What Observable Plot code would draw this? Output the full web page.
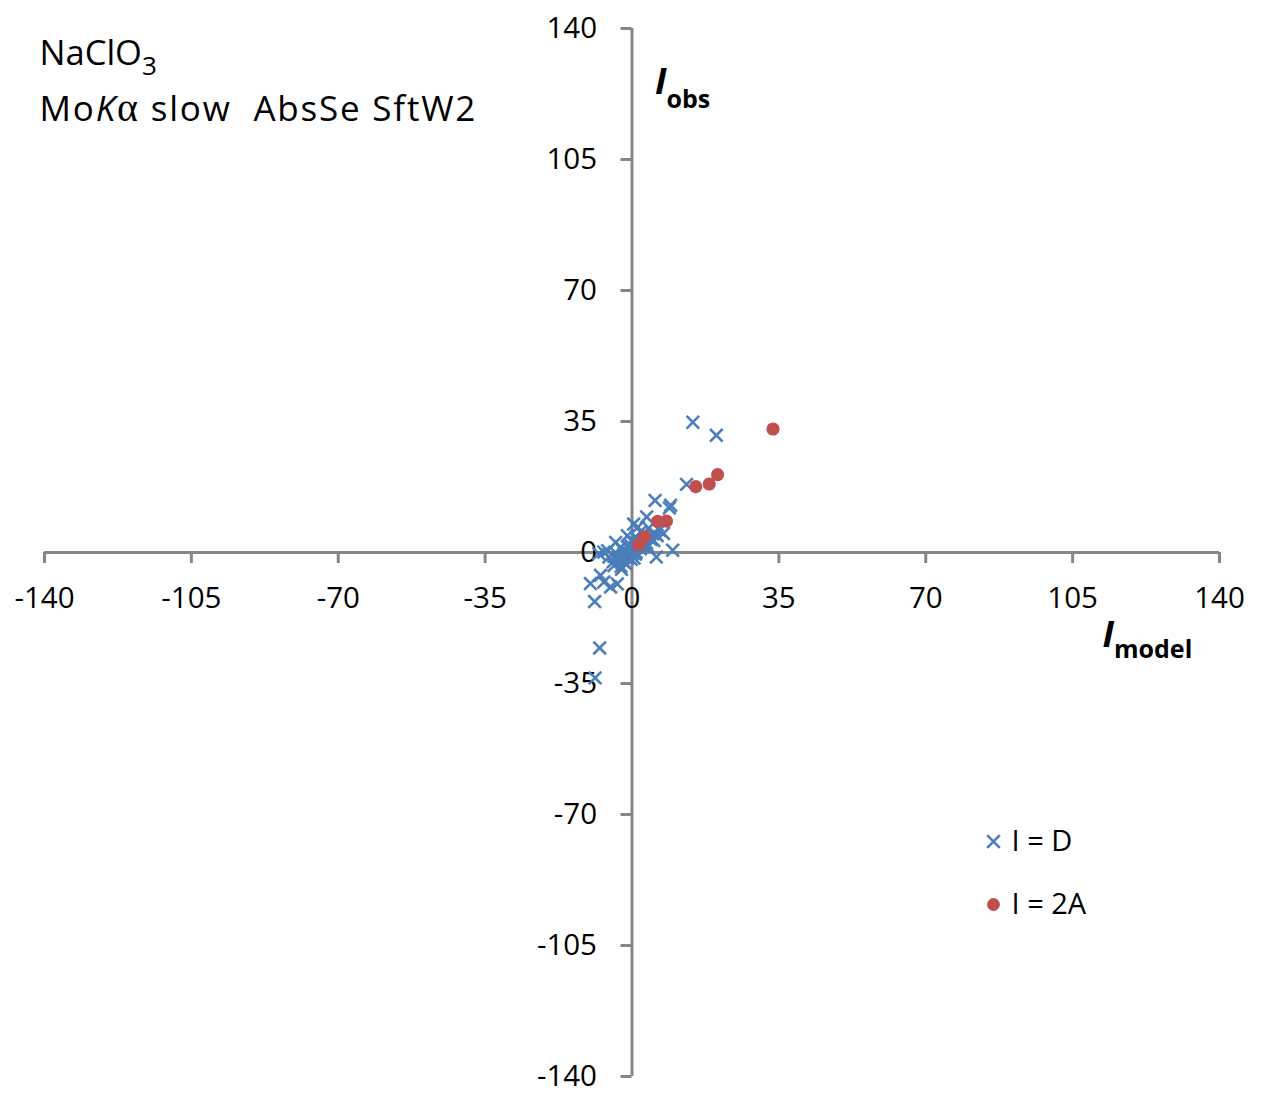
<!DOCTYPE html>
<html><head><meta charset="utf-8">
<script src="https://cdn.jsdelivr.net/npm/d3@7"></script>
<script src="https://cdn.jsdelivr.net/npm/@observablehq/plot@0.6"></script>
<style>body{margin:0;background:#fff} svg{display:block}</style>
</head><body><div id="chart"></div>
<script>
// Tick values
const xTicks = [-140,-105,-70,-35,0,35,70,105,140];
const yTicks = [-140,-105,-70,-35,0,35,70,105,140];
const xTickLabels = ["-140","-105","-70","-35","0","35","70","105","140"];
const yTickLabels = ["-140","-105","-70","-35","0","35","70","105","140"];
// Series names
const seriesNames = ["I = D", "I = 2A"];
// Series "I = D" (blue crosses)
const dX = [14.5,20.1,13.0,5.5,8.9,9.2,3.5,0.4,1.4,7.5,5.8,9.7,
  -7.7,-8.8,-8.9,-9.9,-7.5,-3.5,-5.1,-6.7,-5.5,-4.3,-2.6,-3.9,-1.1,-2.7,-6.7,-7.9,-5.8,-4.3,
  -3,-2,-2,-1,-1,0,0,0.5,1,1,1.5,2,2,2.5,3,3,3.5,4,4.5,5,6,6.5,-0.5,0,1,-1.5,-2.5,0.5,-3.5,2,3,4,-1,0,1,
  -4.5,-3.2,-1.8,-0.6,0.8,2.6,3.8,5.2,-2.2,-0.2];
const dY = [34.8,31.3,18.2,13.9,11.9,12.6,9.5,7.6,6.8,5.1,-1.2,0.6,
  -25.5,-33.5,-13.1,-8.3,-6.1,-8.4,-9.2,-7.9,-1.2,-3.5,-3.7,2.7,4.5,1.4,0.1,-0.3,0.5,-1.0,
  -2,-2.5,-1,-1.5,0,-0.5,0.5,1,0,1.5,2.5,1,2,3,2,3.5,2.5,4,3.5,5,4.5,6,2,3,4,-3,-4.5,-1.5,-0.5,5.5,5,6.5,1.5,1.5,2.5,
  -2.5,-1.2,-0.2,0.8,-0.4,1.8,1.6,3.2,0.6,-1.8];
// Series "I = 2A" (red dots)
const aX = [33.6,20.4,18.4,15.2,8.2,6.1,3.0,1.6];
const aY = [33.0,20.8,18.3,17.6,8.4,8.3,4.2,2.1];

const titleLines = ["NaClO3", "MoKα slow  AbsSe SftW2"];
const xTitle = "Imodel";
const yTitle = "Iobs";

const W = 1261, H = 1096, mt = 28, mb = 20, ml = 44, mr = 42;
const plotW = W - ml - mr, plotH = H - mt - mb;
const tickLenX = 11 * 280 / plotH; // vertical tick length on x axis, in y units
const tickLenY = 11 * 280 / plotW; // horizontal tick length on y axis, in x units

const blue = "#4A7EBB", red = "#C0504D", axisColor = "#868686";
const font = "Open Sans";

const dData = dX.map((x, i) => ({x, y: dY[i]}));
const aData = aX.map((x, i) => ({x, y: aY[i]}));

const chart = Plot.plot({
  width: W, height: H,
  marginTop: mt, marginBottom: mb, marginLeft: ml, marginRight: mr,
  x: {domain: [-140, 140], axis: null},
  y: {domain: [-140, 140], axis: null},
  style: {background: "#fff", fontFamily: font},
  marks: [
    Plot.ruleY([0], {x1: -140, x2: 140, stroke: axisColor, strokeWidth: 3}),
    Plot.ruleX([0], {y1: -140, y2: 140, stroke: axisColor, strokeWidth: 3}),
    Plot.ruleX(xTicks, {x: d => d, y1: 0, y2: -tickLenX, stroke: axisColor, strokeWidth: 3}),
    Plot.ruleY(yTicks, {y: d => d, x1: 0, x2: -tickLenY, stroke: axisColor, strokeWidth: 3}),
    Plot.text(xTicks, {x: d => d, y: 0, dy: 46, text: (d, i) => xTickLabels[i], fontSize: 29.5, fill: "#000", fontFamily: font}),
    Plot.text(yTicks, {x: 0, y: d => d, dx: -35, textAnchor: "end", text: (d, i) => yTickLabels[i], fontSize: 29.5, fill: "#000", fontFamily: font}),
    Plot.dot(dData, {x: "x", y: "y", symbol: "times", r: 5.8, stroke: blue, strokeWidth: 2.6}),
    Plot.dot(aData, {x: "x", y: "y", r: 6.6, fill: red, stroke: "none"}),
    // titles
    Plot.text([titleLines[0]], {frameAnchor: "top-left", text: d => d, dx: -5, dy: 36, textAnchor: "start", lineAnchor: "bottom", fontSize: 34.5, fill: "#000", fontFamily: font}),
    Plot.text([titleLines[1]], {frameAnchor: "top-left", text: d => d, dx: -5, dy: 92, textAnchor: "start", lineAnchor: "bottom", fontSize: 35, fill: "#000", fontFamily: font}),
    // axis titles
    Plot.text([yTitle], {x: 0, y: 140, dx: 23, dy: 65, text: d => d, textAnchor: "start", lineAnchor: "bottom", fontSize: 25, fontWeight: "bold", fill: "#000", fontFamily: font}),
    Plot.text([xTitle], {x: 140, y: 0, dx: -117, dy: 94, text: d => d, textAnchor: "start", lineAnchor: "bottom", fontSize: 25, fontWeight: "bold", fill: "#000", fontFamily: font}),
    // legend
    Plot.dot([seriesNames[0]], {frameAnchor: "top-left", dx: 949, dy: 813, symbol: "times", r: 5.8, stroke: blue, strokeWidth: 2.6}),
    Plot.dot([seriesNames[1]], {frameAnchor: "top-left", dx: 949, dy: 876, r: 6.4, fill: red, stroke: "none"}),
    Plot.text([seriesNames[0]], {frameAnchor: "top-left", dx: 967, dy: 813, text: d => d, textAnchor: "start", lineAnchor: "middle", fontSize: 29, fill: "#000", fontFamily: font}),
    Plot.text([seriesNames[1]], {frameAnchor: "top-left", dx: 967, dy: 876, text: d => d, textAnchor: "start", lineAnchor: "middle", fontSize: 29, fill: "#000", fontFamily: font})
  ]
});

const rich = {
  "NaClO3": 'NaClO<tspan font-size="26" dy="10">3</tspan>',
  "MoKα slow  AbsSe SftW2": 'Mo<tspan font-style="italic">K</tspan><tspan font-family="Liberation Serif" font-size="40">α</tspan> slow  AbsSe SftW2',
  "Iobs": '<tspan font-style="italic" font-size="36">I</tspan><tspan dy="14">obs</tspan>',
  "Imodel": '<tspan font-style="italic" font-size="36">I</tspan><tspan dy="11">model</tspan>'
};
chart.querySelectorAll("text").forEach(t => {
  const s = t.textContent;
  if (rich[s]) { t.innerHTML = rich[s]; t.style.whiteSpace = "pre"; }
  if (s === titleLines[1]) t.setAttribute("letter-spacing", "1.8");
});
document.getElementById("chart").appendChild(chart);
</script>
</body></html>
